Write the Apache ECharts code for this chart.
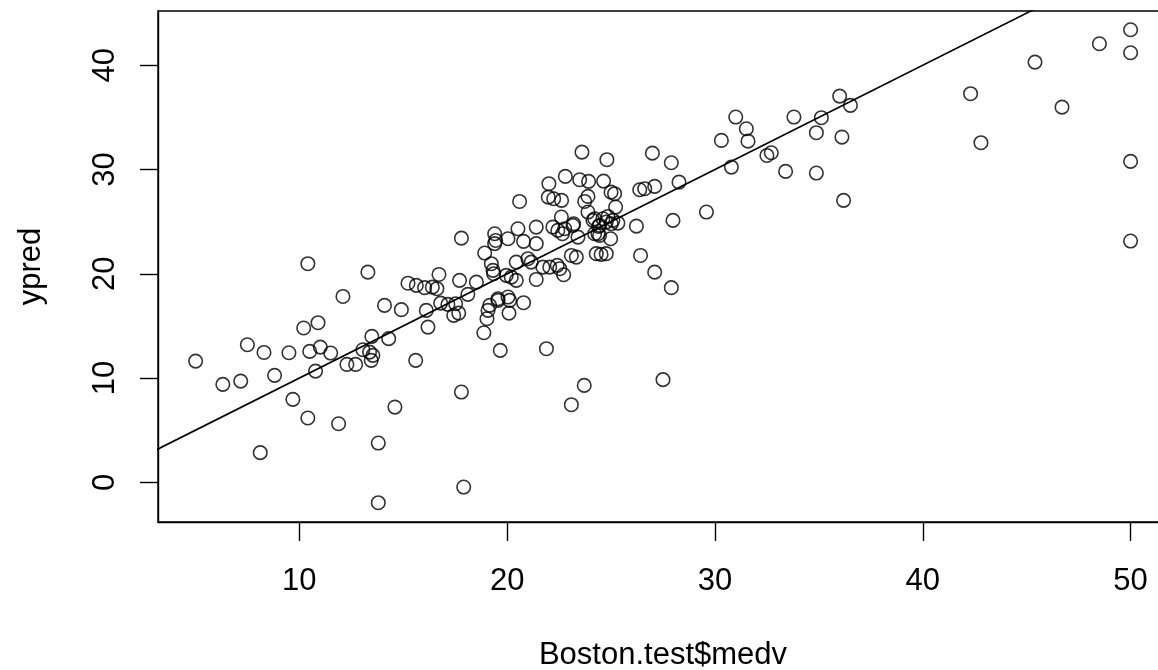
<!DOCTYPE html>
<html>
<head>
<meta charset="utf-8">
<script src="https://cdn.jsdelivr.net/npm/echarts@6/dist/echarts.min.js"></script>
<style>html,body{margin:0;padding:0;background:#fff;}#chart{width:1158px;height:670px;}</style>
</head>
<body>
<div id="chart"></div>
<script>
// observed medv (x) and predicted (y)
const medv = [
  10.41, 13.30, 12.10, 14.10, 14.91, 16.11, 16.19, 10.21, 10.90, 7.50,
  8.30, 9.50, 10.50, 11.01, 11.51, 5.01, 6.32, 7.18, 8.81, 10.78,
  12.29, 12.71, 13.06, 13.38, 13.54, 13.46, 13.49, 14.30, 15.60, 9.69,
  10.41, 11.89, 14.60, 8.12, 13.80, 13.80,
  15.23, 15.63, 16.03, 16.40, 16.62, 16.72, 16.80, 17.15, 17.52, 17.43,
  17.67, 17.80, 17.71, 18.11, 18.52, 18.92, 19.08, 19.16, 19.56, 20.04,
  19.03, 20.09, 20.79, 18.88, 19.67, 21.89, 17.80, 23.71, 23.09, 27.50, 17.91,
  23.60, 24.80, 26.99, 27.90, 22.80, 23.49, 23.92, 24.64, 25.00, 22.01,
  21.98, 22.24, 22.62, 20.60, 23.89, 23.73, 26.38, 26.62, 27.10, 27.98,
  28.27, 26.22, 26.42, 27.10, 27.90, 25.22, 22.61, 23.89, 23.20, 24.13,
  24.85, 25.09, 25.33, 24.40, 24.21, 24.45, 24.98, 24.77, 24.29, 24.52,
  24.77, 23.41, 22.20, 22.44, 22.66, 21.40, 20.52, 20.79, 21.40, 20.04,
  19.40, 19.45, 19.40, 19.24, 19.32, 19.35, 19.96, 20.20, 20.44, 20.44,
  21.00, 21.16, 21.72, 22.05, 22.41, 21.40, 22.72, 23.09, 23.33,
  24.61, 25.01, 24.45, 24.37, 24.21, 22.77, 23.17, 22.53, 25.17, 19.56, 20.12,
  50.00, 48.50, 50.00, 45.40, 42.30, 46.70, 42.80, 50.00, 50.00, 36.00,
  36.52, 31.00, 33.80, 35.12, 31.51, 34.88, 31.59, 36.11, 30.31, 32.50,
  32.71, 30.79, 33.40, 34.88, 36.19, 29.59
];
const ypred = [
  20.97, 20.16, 17.83, 16.97, 16.56, 16.49, 14.89, 14.80, 15.31, 13.20,
  12.46, 12.43, 12.56, 12.97, 12.40, 11.63, 9.40, 9.71, 10.26, 10.67,
  11.31, 11.31, 12.72, 12.49, 12.18, 11.70, 14.00, 13.78, 11.70, 7.96,
  6.17, 5.62, 7.22, 2.85, 3.77, -1.95,
  19.10, 18.89, 18.67, 18.72, 18.57, 19.94, 17.19, 17.07, 17.13, 16.01,
  16.23, 23.42, 19.37, 18.03, 19.20, 21.99, 16.49, 16.97, 17.61, 17.77,
  15.69, 16.23, 17.23, 14.35, 12.66, 12.82, 8.66, 9.30, 7.45, 9.85, -0.45,
  31.67, 30.94, 31.57, 30.65, 29.34, 29.02, 28.86, 28.89, 27.83, 28.64,
  27.35, 27.20, 27.04, 26.94, 27.42, 26.94, 28.06, 28.16, 28.38, 25.12,
  28.79, 24.57, 21.76, 20.16, 18.67, 26.40, 25.44, 25.92, 24.80, 25.12,
  25.50, 25.12, 24.86, 24.54, 23.84, 23.68, 23.36, 24.96, 21.93, 21.86,
  21.93, 23.52, 24.48, 24.16, 23.84, 24.48, 24.32, 23.11, 22.89, 23.36,
  23.84, 23.20, 22.89, 20.97, 20.33, 20.01, 19.85, 19.68, 19.37, 21.12,
  21.45, 21.12, 20.64, 20.64, 20.81, 19.46, 19.91, 21.76, 21.60,
  25.28, 24.80, 24.64, 23.84, 25.28, 24.32, 24.64, 20.49, 27.68, 17.45, 17.45,
  43.40, 42.06, 41.20, 40.30, 37.27, 35.98, 32.57, 30.78, 23.14, 37.04,
  36.15, 35.03, 35.03, 34.97, 33.91, 33.53, 32.72, 33.11, 32.79, 31.35,
  31.61, 30.23, 29.82, 29.66, 27.04, 25.92
];
// reference line y = x (abline(0, 1))
const refLineX = [0, 60];
const refLineY = [0, 60];
const xTicks = [10, 20, 30, 40, 50];
const yTicks = [0, 10, 20, 30, 40];

const points = medv.map((v, i) => [v, ypred[i]]);
const refLine = refLineX.map((v, i) => [v, refLineY[i]]);

const FONT = 'Liberation Sans, Arial, Helvetica, sans-serif';
const chart = echarts.init(document.getElementById('chart'), null, {renderer: 'canvas'});
chart.setOption({
  backgroundColor: '#ffffff',
  animation: false,
  grid: {
    left: 158, top: 11, right: -10, bottom: 148,
    outerBoundsMode: 'none', containLabel: false,
    show: true, borderColor: '#000', borderWidth: 1.4, backgroundColor: 'transparent'
  },
  xAxis: {
    type: 'value', min: 3.2, max: 51.8,
    name: 'Boston.test$medv', nameLocation: 'middle', nameGap: 118,
    nameTextStyle: {fontFamily: FONT, fontSize: 31, color: '#000'},
    axisLine: {show: true, onZero: false, lineStyle: {color: '#000', width: 1.4}},
    axisTick: {show: true, customValues: xTicks, inside: false, length: 19, lineStyle: {color: '#000', width: 1.4}},
    axisLabel: {show: true, customValues: xTicks, margin: 44, fontFamily: FONT, fontSize: 31, color: '#000'},
    splitLine: {show: false}
  },
  yAxis: {
    type: 'value', min: -3.8, max: 45.2,
    name: 'ypred', nameLocation: 'middle', nameGap: 111, nameRotate: 90,
    nameTextStyle: {fontFamily: FONT, fontSize: 31, color: '#000'},
    axisLine: {show: true, onZero: false, lineStyle: {color: '#000', width: 1.4}},
    axisTick: {show: true, customValues: yTicks, inside: false, length: 18, lineStyle: {color: '#000', width: 1.4}},
    axisLabel: {show: true, customValues: yTicks, rotate: 90, margin: 37, fontFamily: FONT, fontSize: 31, color: '#000'},
    splitLine: {show: false}
  },
  series: [
    {
      type: 'scatter', data: points, symbol: 'circle', symbolSize: 13.5,
      itemStyle: {color: 'rgba(0,0,0,0)', borderColor: '#000', borderWidth: 1.6},
      emphasis: {disabled: true}, z: 3
    },
    {
      type: 'line', data: refLine, symbol: 'none', clip: true,
      lineStyle: {color: '#000', width: 1.6}, z: 2
    }
  ]
});
</script>
</body>
</html>
